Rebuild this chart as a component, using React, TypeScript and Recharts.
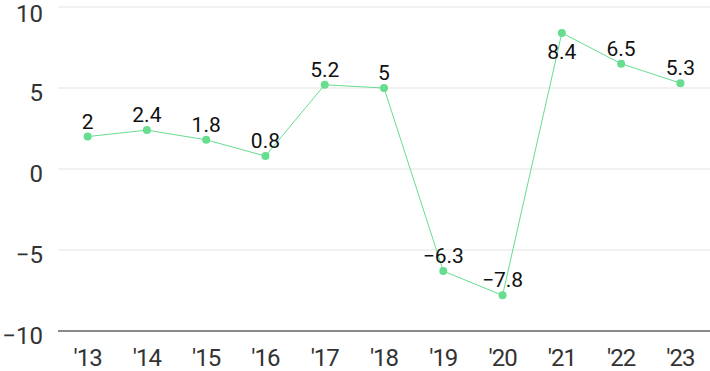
import React from "react";
import { LineChart, Line, XAxis, YAxis, CartesianGrid, LabelList } from "recharts";

const years = ["'13", "'14", "'15", "'16", "'17", "'18", "'19", "'20", "'21", "'22", "'23"];
const values = [2, 2.4, 1.8, 0.8, 5.2, 5, -6.3, -7.8, 8.4, 6.5, 5.3];
const yTicks = [-10, -5, 0, 5, 10];

const data = years.map((y, i) => ({ year: y, value: values[i] }));

const fmt = (v: number) => (v < 0 ? "\u2212" + Math.abs(v) : String(v));
const FONT = "Roboto, 'Liberation Sans', sans-serif";

const renderLabel = (props: any) => {
  const { x, y, value } = props;
  const below = value >= 8;
  return (
    <text
      x={x}
      y={below ? y + 26 : y - 8}
      textAnchor="middle"
      fontSize={21}
      fontFamily={FONT}
      fill="#111"
    >
      {fmt(value)}
    </text>
  );
};

const XTick = (props: any) => {
  const { x, y, payload } = props;
  return (
    <text x={x} y={y + 35} textAnchor="middle" fontSize={24} fontFamily={FONT} fill="#333" letterSpacing={-1}>
      {payload.value}
    </text>
  );
};

const YTick = (props: any) => {
  const { x, y, payload } = props;
  return (
    <text x={x} y={y + 12.5} textAnchor="end" fontSize={24} fontFamily={FONT} fill="#333">
      {fmt(payload.value)}
    </text>
  );
};

export default function App() {
  return (
    <div style={{ position: "absolute", left: 0, top: 0, width: 710, height: 371, background: "#fff" }}>
      <LineChart width={710} height={371} data={data} margin={{ top: 7, right: 0, bottom: 0, left: 0 }}>
        <CartesianGrid horizontal vertical={false} stroke="#e3e3e3" />
        <XAxis
          dataKey="year"
          height={40}
          tickLine={false}
          tickSize={0}
          tickMargin={0}
          axisLine={{ stroke: "#222" }}
          tick={<XTick />}
          interval={0}
          padding={{ left: 29.6, right: 29.6 }}
        />
        <YAxis
          domain={[-10, 10]}
          ticks={yTicks}
          width={58}
          axisLine={false}
          tickLine={false}
          tickSize={0}
          tickMargin={15}
          tick={<YTick />}
        />
        <Line
          dataKey="value"
          stroke="#66dd8f"
          strokeWidth={1}
          dot={{ r: 4, fill: "#66dd8f", stroke: "#66dd8f", strokeWidth: 0 }}
          isAnimationActive={false}
        >
          <LabelList dataKey="value" content={renderLabel} />
        </Line>
      </LineChart>
    </div>
  );
}
